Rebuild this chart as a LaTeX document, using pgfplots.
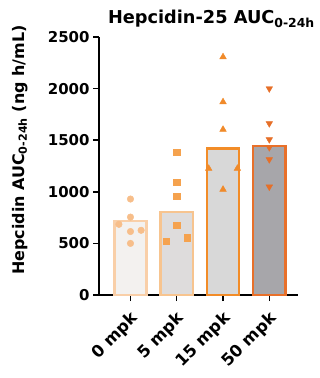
\documentclass[border=0pt]{standalone}
\usepackage{pgfplots}
\pgfplotsset{compat=1.18}
\usepackage{fontspec}
\setmainfont{DejaVu Sans}
\definecolor{fillA}{HTML}{F3F1EF}
\definecolor{edgeA}{HTML}{F9CFA8}
\definecolor{markA}{HTML}{F7BE8A}
\definecolor{fillB}{HTML}{DEDCDC}
\definecolor{edgeB}{HTML}{F7C48F}
\definecolor{markB}{HTML}{F5A24E}
\definecolor{fillC}{HTML}{D8D8D8}
\definecolor{edgeC}{HTML}{F28C28}
\definecolor{markC}{HTML}{F08A2A}
\definecolor{fillD}{HTML}{A7A6AA}
\definecolor{edgeD}{HTML}{E8702A}
\definecolor{markD}{HTML}{E66F28}
\begin{document}
\begin{tikzpicture}
\useasboundingbox (0,0) rectangle (320bp,378bp);
\begin{axis}[
  at={(99bp,83bp)}, anchor=south west,
  scale only axis, width=199bp, height=258bp,
  xmin=-0.68, xmax=3.62, ymin=0, ymax=2500,
  axis x line*=bottom, axis y line*=left,
  axis line style={line width=1.5bp, -},
  every tick/.style={line width=1.5bp, black},
  major tick length=6bp, tick align=outside,
  xtick={0,1,2,3},
  xticklabels={0 mpk,5 mpk,15 mpk,50 mpk},
  ytick={0,500,1000,1500,2000,2500},
  /pgf/number format/assume math mode=true,
  /pgf/number format/1000 sep={},
  tick label style={font=\fontsize{15}{17}\selectfont\bfseries},
  xticklabel style={font=\fontsize{16.5}{18}\selectfont\bfseries, rotate=45, anchor=north east, inner sep=1bp, xshift=-6bp, yshift=-4.6bp},
  title={Hepcidin-25 AUC\textsubscript{0-24h}},
  title style={font=\fontsize{17.8}{20}\selectfont\bfseries, at={(axis description cs:0.565,1.047)}, anchor=center},
  ylabel={Hepcidin AUC\textsubscript{0-24h} (ng h/mL)},
  ylabel style={font=\fontsize{16}{18}\selectfont\bfseries, at={(axis description cs:-0.397,0.562)}, anchor=center},
  clip=false,
]
% bars
\addplot[ybar, bar shift=0pt, bar width=0.7, fill=fillA, draw=edgeA, line width=2.5bp] coordinates {(0,715)};
\addplot[ybar, bar shift=0pt, bar width=0.7, fill=fillB, draw=edgeB, line width=2.5bp] coordinates {(1,803)};
\addplot[ybar, bar shift=0pt, bar width=0.7, fill=fillC, draw=edgeC, line width=2.5bp] coordinates {(2,1420)};
\addplot[ybar, bar shift=0pt, bar width=0.7, fill=fillD, draw=edgeD, line width=2.5bp] coordinates {(3,1442)};
% points
\addplot[only marks, mark=*, mark size=3.3bp, color=markA] coordinates {
(0,930) (0,755) (-0.25,685) (0.23,627) (0,615) (0,500)};
\addplot[only marks, mark=square*, mark size=3.2bp, color=markB] coordinates {
(1,1385) (1,1092) (1,955) (1,675) (0.77,519) (1.23,555)};
\addplot[only marks, mark=triangle*, mark size=3.8bp, color=markC] coordinates {
(2,2307) (2,1871) (2,1604) (1.69,1226) (2.31,1226) (2,1023)};
\addplot[only marks, mark=triangle*, mark size=3.8bp, color=markD, mark options={rotate=180}] coordinates {
(3,2000) (3,1662) (3,1507) (3,1430) (3,1313) (3,1048)};
\end{axis}
\end{tikzpicture}
\end{document}
